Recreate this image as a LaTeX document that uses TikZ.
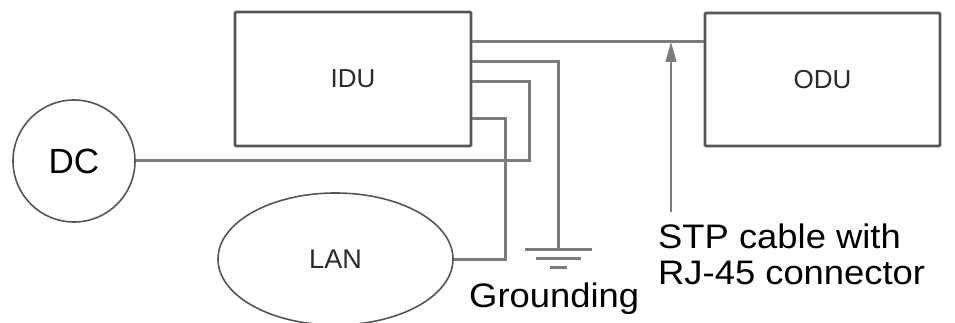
\documentclass[tikz,border=0pt]{standalone}
\usepackage{fontspec}
\usepackage{graphicx}
\setmainfont{Liberation Sans}
\usetikzlibrary{shapes.geometric,arrows.meta,calc}
\definecolor{boxc}{HTML}{555555}
\definecolor{wirec}{HTML}{7C7C7C}
\definecolor{labc}{HTML}{2A2A2A}
\newcommand\widetxt[1]{\scalebox{1.07}[1]{#1}}
\tikzset{
  unit/.style={draw=boxc,line width=2.6pt,rounded corners=1pt,inner sep=0pt,text=labc,font=\fontsize{26}{30}\selectfont},
  endpt/.style={draw=boxc,line width=1.6pt,inner sep=0pt},
  wire/.style={draw=wirec,line width=3pt},
  pointer/.style={draw=wirec,line width=1.3pt,-{Triangle[length=20pt,width=11pt]}},
  bigtext/.style={font=\fontsize{34}{36}\selectfont,inner sep=0pt,anchor=base west}
}
\begin{document}
\begin{tikzpicture}[x=1pt,y=-1pt]
\useasboundingbox (0,0) rectangle (955,323);
\node[unit,minimum width=236pt,minimum height=134pt] (idu) at (353,79) {IDU};
\node[unit,minimum width=235pt,minimum height=133pt] (odu) at (822.5,79.5) {ODU};
\node[endpt,circle,minimum size=122pt,font=\fontsize{35}{38}\selectfont] (dc) at (74,161) {DC};
\node[endpt,ellipse,minimum width=235pt,minimum height=132pt,text=labc,font=\fontsize{27}{30}\selectfont] (lan) at (335.5,259) {LAN};
\coordinate (gnd) at (558,249);
% wires
\draw[wire] (idu.east |- 0,42) -- (odu.west |- 0,42);
\draw[wire] (idu.east |- 0,62) -- (gnd |- 0,62) -- (gnd);
\draw[wire] (idu.east |- 0,82) -- (529,82) -- (529,161) -- (dc.east);
\draw[wire] (idu.east |- 0,119) -- (505,119) -- (505,259) -- (lan.east);
% ground symbol
\draw[wire] ($(gnd)+(-33,0)$) -- ($(gnd)+(34,0)$);
\draw[wire] ($(gnd)+(-22,9)$) -- ($(gnd)+(23,9)$);
\draw[wire] ($(gnd)+(-8,18)$) -- ($(gnd)+(9,18)$);
\node[bigtext] (gtext) at (469,307) {\widetxt{Grounding}};
% STP pointer
\node[bigtext] (stp1) at (658,248) {\widetxt{STP cable with}};
\node[bigtext] (stp2) at (658,284) {\widetxt{RJ-45 connector}};
\coordinate (tip) at (671,42);
\draw[pointer] (671,212) -- (tip);
\end{tikzpicture}
\end{document}
